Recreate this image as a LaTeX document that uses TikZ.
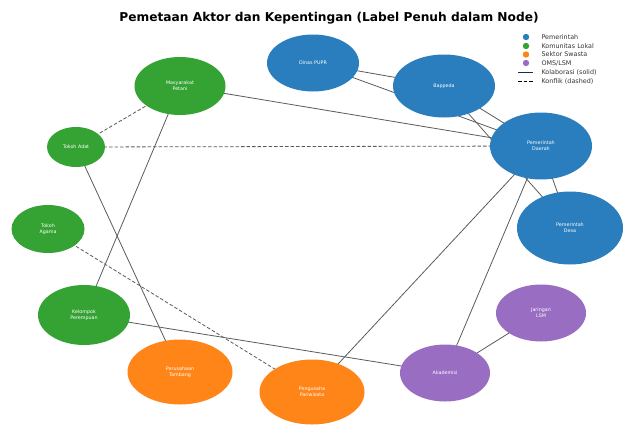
\documentclass[tikz,border=0pt]{standalone}
\usepackage{fontspec}
\setmainfont{DejaVu Sans}
\usetikzlibrary{shapes.geometric, backgrounds}

\definecolor{pemblue}{RGB}{42,126,189}
\definecolor{komgreen}{RGB}{52,163,52}
\definecolor{swaorange}{RGB}{255,133,24}
\definecolor{lsmpurple}{RGB}{153,110,194}
\definecolor{edgegray}{RGB}{90,90,90}

\begin{document}
\begin{tikzpicture}[
    x=1pt, y=-1pt,
    actor/.style={ellipse, draw=none, text=white, align=center, inner sep=0pt,
        font=\fontsize{4.8}{5.6}\selectfont},
    pemerintah/.style={actor, fill=pemblue},
    komunitas/.style={actor, fill=komgreen},
    swasta/.style={actor, fill=swaorange},
    lsm/.style={actor, fill=lsmpurple},
    kolab/.style={draw=edgegray, line width=0.8pt},
    konflik/.style={draw=edgegray, line width=0.8pt, dash pattern=on 3.5pt off 2pt},
    legtext/.style={anchor=west, font=\fontsize{6.4}{7}\selectfont, text=black!80}
]
\useasboundingbox (0,0) rectangle (623,426);

% Title
\node[font=\fontsize{12.2}{14}\selectfont\bfseries] (judul) at (329,18)
    {Pemetaan Aktor dan Kepentingan (Label Penuh dalam Node)};

% Pemerintah
\node[pemerintah, minimum width=92pt, minimum height=57pt] (dinas) at (313,63) {Dinas PUPR};
\node[pemerintah, minimum width=102pt, minimum height=63pt] (bappeda) at (444,86) {Bappeda};
\node[pemerintah, minimum width=102pt, minimum height=67pt] (pemda) at (541,146) {Pemerintah\\Daerah};
\node[pemerintah, minimum width=106pt, minimum height=73pt] (pemdes) at (570,228) {Pemerintah\\Desa};

% Komunitas Lokal
\node[komunitas, minimum width=91pt, minimum height=58pt] (petani) at (180,86) {Masyarakat\\Petani};
\node[komunitas, minimum width=58pt, minimum height=40pt] (adat) at (76,147) {Tokoh Adat};
\node[komunitas, minimum width=73pt, minimum height=48pt] (agama) at (48,229) {Tokoh\\Agama};
\node[komunitas, minimum width=92pt, minimum height=60pt] (perempuan) at (84,315) {Kelompok\\Perempuan};

% Sektor Swasta
\node[swasta, minimum width=105pt, minimum height=65pt] (tambang) at (180,372) {Perusahaan\\Tambang};
\node[swasta, minimum width=105pt, minimum height=65pt] (wisata) at (312,392) {Pengusaha\\Pariwisata};

% OMS/LSM
\node[lsm, minimum width=90pt, minimum height=57pt] (jaringan) at (541,313) {Jaringan\\LSM};
\node[lsm, minimum width=90pt, minimum height=57pt] (akademisi) at (445,373) {Akademisi};

% Relations
\begin{scope}[on background layer]
\draw[kolab] (dinas.center) -- (bappeda.center);
\draw[kolab] (dinas.center) -- (pemda.center);
\draw[kolab] (bappeda.center) -- (pemda.center);
\draw[kolab] (bappeda.center) -- (pemdes.center);
\draw[kolab] (pemda.center) -- (pemdes.center);
\draw[kolab] (petani.center) -- (pemda.center);
\draw[kolab] (petani.center) -- (perempuan.center);
\draw[kolab] (adat.center) -- (tambang.center);
\draw[kolab] (perempuan.center) -- (akademisi.center);
\draw[kolab] (wisata.center) -- (pemda.center);
\draw[kolab] (akademisi.center) -- (pemda.center);
\draw[kolab] (akademisi.center) -- (jaringan.center);
\draw[konflik] (adat.center) -- (petani.center);
\draw[konflik] (adat.center) -- (pemda.center);
\draw[konflik] (agama.center) -- (wisata.center);
\end{scope}

% Legend
\fill[pemblue] (526,37) circle (3.2pt);
\node[legtext] (lg1) at (538,37) {Pemerintah};
\fill[komgreen] (526,46) circle (3.2pt);
\node[legtext] (lg2) at (538,46) {Komunitas Lokal};
\fill[swaorange] (526,54.5) circle (3.2pt);
\node[legtext] (lg3) at (538,54.5) {Sektor Swasta};
\fill[lsmpurple] (526,63) circle (3.2pt);
\node[legtext] (lg4) at (538,63) {OMS/LSM};
\coordinate (la1) at (518,72.5);
\coordinate (lb1) at (533,72.5);
\draw[kolab, draw=pemblue!40!black] (la1) -- (lb1);
\node[legtext] (lg5) at (538,72.5) {Kolaborasi (solid)};
\coordinate (la2) at (518,81.5);
\coordinate (lb2) at (533,81.5);
\draw[konflik, draw=black] (la2) -- (lb2);
\node[legtext] (lg6) at (538,81.5) {Konflik (dashed)};

\end{tikzpicture}
\end{document}
